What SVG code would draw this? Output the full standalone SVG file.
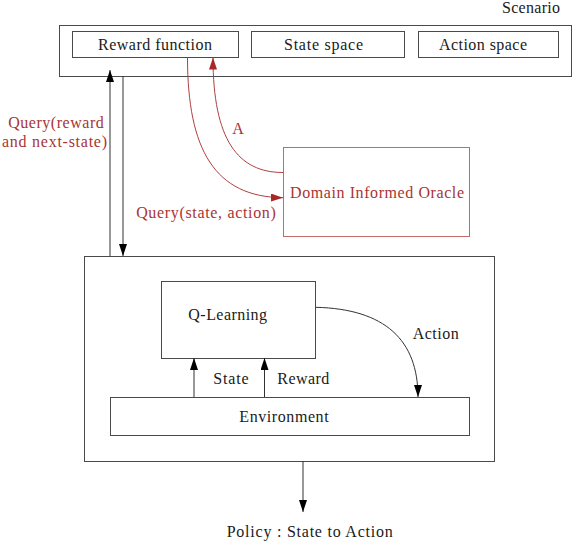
<svg xmlns="http://www.w3.org/2000/svg" width="573" height="543" viewBox="0 0 573 543">
<style>
.box{fill:none;stroke:#4a4a4a;stroke-width:1}
.t{font-family:"Liberation Serif","Times New Roman",serif;font-size:16px;fill:#1a1a1a;text-anchor:middle}
.r{fill:#a83434}
.ln{fill:none;stroke:#333;stroke-width:1}
.rl{fill:none;stroke:#b04040;stroke-width:1}
</style>
<defs>
<marker id="ab" markerWidth="12" markerHeight="8" refX="12" refY="4" orient="auto" markerUnits="userSpaceOnUse" viewBox="0 0 12 8">
<path d="M0,0 L12,4 L0,8 Z" fill="#000"/>
</marker>
<marker id="ar" markerWidth="12" markerHeight="8" refX="12" refY="4" orient="auto" markerUnits="userSpaceOnUse" viewBox="0 0 12 8">
<path d="M0,0 L12,4 L0,8 Z" fill="#a82828"/>
</marker>
</defs>
<g id="scenario">
<rect class="box" x="59.5" y="25.5" width="512" height="51"/>
<text class="t" x="531" y="13" textLength="58">Scenario</text>
</g>
<g id="reward-function">
<rect class="box" x="72.5" y="31.5" width="166" height="26"/>
<text class="t" x="155" y="50" textLength="114">Reward function</text>
</g>
<g id="state-space">
<rect class="box" x="251.5" y="31.5" width="153" height="26"/>
<text class="t" x="323.5" y="50" textLength="79">State space</text>
</g>
<g id="action-space">
<rect class="box" x="418.5" y="31.5" width="140" height="26"/>
<text class="t" x="483" y="50" textLength="88">Action space</text>
</g>
<g id="oracle">
<rect x="283.5" y="147.5" width="186" height="89" fill="none" stroke="#c46a6a" stroke-width="1"/>
<text class="t r" x="377" y="198" textLength="174">Domain Informed Oracle</text>
</g>
<g id="agent">
<rect class="box" x="84.5" y="256.5" width="410" height="205"/>
</g>
<g id="q-learning">
<rect class="box" x="161.5" y="281.5" width="154" height="77"/>
<text class="t" x="227.7" y="320" textLength="78.7">Q-Learning</text>
</g>
<g id="environment">
<rect class="box" x="110.5" y="397.5" width="359" height="38"/>
<text class="t" x="284" y="422" textLength="89.3">Environment</text>
</g>
<g id="policy">
<text class="t" x="309.7" y="537" textLength="166">Policy : State to Action</text>
</g>
<g id="connectors">
<line class="ln" x1="110" y1="256" x2="110" y2="70" marker-end="url(#ab)"/>
<line class="ln" x1="123" y1="76" x2="123" y2="256" marker-end="url(#ab)"/>
<path class="rl" d="M187.5,57.5 C187.5,150 215,197 283,197.7" marker-end="url(#ar)"/>
<path class="rl" d="M283,172.5 C238,172.5 213,140 213,57.5" marker-end="url(#ar)"/>
<line class="ln" x1="194" y1="397" x2="194" y2="358" marker-end="url(#ab)"/>
<line class="ln" x1="264.5" y1="397" x2="264.5" y2="358" marker-end="url(#ab)"/>
<path class="ln" d="M316,307.3 C385,309 418,340 418,397" marker-end="url(#ab)"/>
<line class="ln" x1="303" y1="461" x2="303" y2="512" marker-end="url(#ab)"/>
<text class="t r" x="56" y="128" textLength="95.5">Query(reward</text>
<text class="t r" x="54.5" y="147" textLength="105">and next-state)</text>
<text class="t r" x="238" y="134" textLength="11">A</text>
<text class="t r" x="206" y="218" textLength="139.7">Query(state, action)</text>
<text class="t" x="231" y="384" textLength="35.3">State</text>
<text class="t" x="303.3" y="384" textLength="52">Reward</text>
<text class="t" x="435.7" y="339" textLength="46">Action</text>
</g>
</svg>
